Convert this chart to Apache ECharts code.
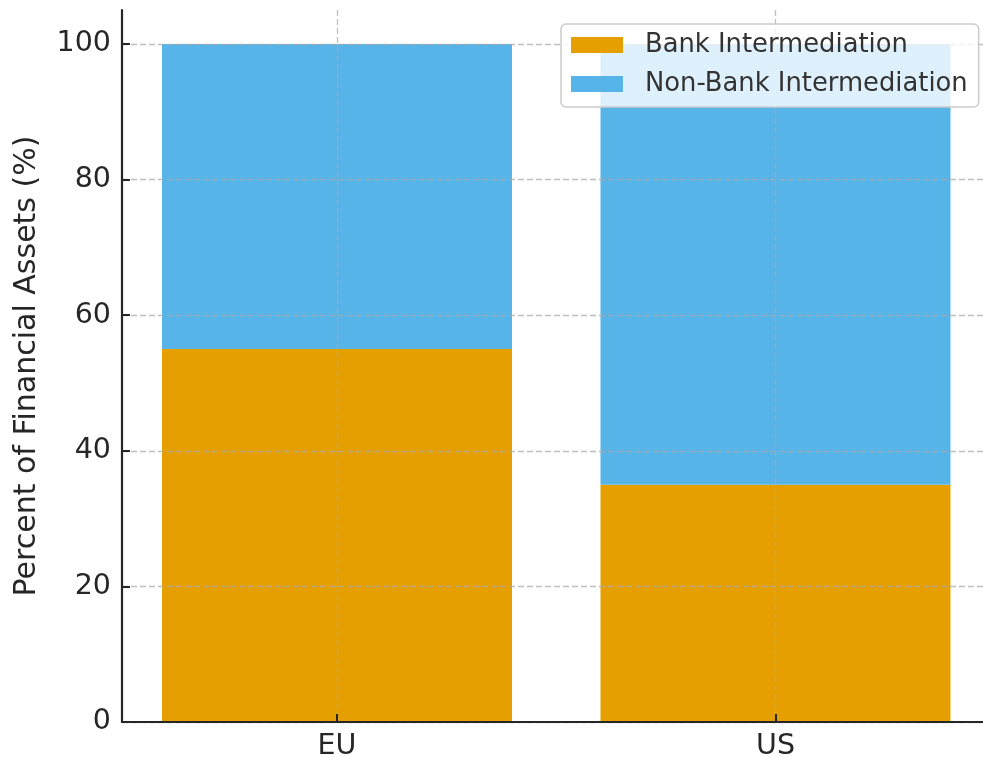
<!DOCTYPE html>
<html>
<head>
<meta charset="utf-8">
<script src="https://cdn.jsdelivr.net/npm/echarts@6/dist/echarts.min.js"></script>
<style>
  html, body { margin: 0; padding: 0; background: #ffffff; }
  #chart { width: 983px; height: 758px; }
</style>
</head>
<body>
<div id="chart"></div>
<script>
// Share of financial assets by intermediation channel
const regions = ['EU', 'US'];
const bankShare = [55, 35];
const nonBankShare = [45, 65];
const yTickValues = [0, 20, 40, 60, 80, 100];
const seriesNames = ['Bank Intermediation', 'Non-Bank Intermediation'];

const FONT = 'DejaVu Sans';
const INK = '#262626';
const GRID_LINE = { type: [6, 3], color: 'rgba(170,170,170,0.75)', width: 1.3 };
const Y_MAX = 105;
const PLOT_TOP = 10;
const PLOT_BOTTOM = 36;

// Category positions on the visible axis (index of each region)
const regionIndex = regions.map((_, i) => i);

const chart = echarts.init(document.getElementById('chart'), null, { renderer: 'canvas' });

chart.setOption({
  animation: false,
  backgroundColor: '#ffffff',
  textStyle: { fontFamily: FONT },
  // grid 0 carries the stacked bars, grid 1 carries the visible frame, ticks and grid lines
  grid: [
    { left: 117.75, right: -11.75, top: PLOT_TOP, bottom: PLOT_BOTTOM, containLabel: false, outerBoundsMode: 'none' },
    { left: 122, right: 0, top: PLOT_TOP, bottom: PLOT_BOTTOM, containLabel: false, outerBoundsMode: 'none' }
  ],
  legend: {
    orient: 'vertical',
    left: 561,
    top: 24,
    z: 10,
    padding: [8, 11, 10, 10],
    itemGap: 13,
    itemWidth: 52,
    itemHeight: 16,
    icon: 'rect',
    backgroundColor: 'rgba(255,255,255,0.8)',
    borderColor: '#cccccc',
    borderWidth: 1.5,
    borderRadius: 5,
    textStyle: {
      fontFamily: FONT,
      fontSize: 25.8,
      lineHeight: 26,
      color: '#333333',
      padding: [0, 0, 0, 17]
    },
    data: seriesNames
  },
  xAxis: [
    {
      gridIndex: 0,
      type: 'category',
      data: regions,
      boundaryGap: true,
      show: false
    },
    {
      gridIndex: 1,
      type: 'value',
      min: -0.49,
      max: 1.473,
      z: 3,
      axisLine: { show: true, onZero: false, lineStyle: { color: INK, width: 2.2 } },
      axisTick: { show: true, inside: true, length: 8, customValues: regionIndex, lineStyle: { color: INK, width: 2 } },
      axisLabel: {
        customValues: regionIndex,
        formatter: v => regions[Math.round(v)] || '',
        fontFamily: FONT,
        fontSize: 28.5,
        color: INK,
        margin: 10
      },
      splitLine: { show: true, lineStyle: GRID_LINE }
    }
  ],
  yAxis: [
    {
      gridIndex: 0,
      type: 'value',
      min: 0,
      max: Y_MAX,
      show: false,
      splitLine: { show: false }
    },
    {
      gridIndex: 1,
      type: 'value',
      min: 0,
      max: Y_MAX,
      z: 3,
      name: 'Percent of Financial Assets (%)',
      nameLocation: 'middle',
      nameGap: 80,
      nameRotate: 90,
      nameTextStyle: { fontFamily: FONT, fontSize: 30, color: INK },
      axisLine: { show: true, onZero: false, lineStyle: { color: INK, width: 2.2 } },
      axisTick: { show: true, inside: true, length: 8, customValues: yTickValues, lineStyle: { color: INK, width: 2 } },
      axisLabel: {
        customValues: yTickValues,
        fontFamily: FONT,
        fontSize: 28.5,
        color: INK,
        margin: 11
      },
      splitLine: { show: true, lineStyle: GRID_LINE }
    }
  ],
  series: [
    {
      name: seriesNames[0],
      type: 'bar',
      xAxisIndex: 0,
      yAxisIndex: 0,
      stack: 'share',
      barWidth: 350,
      itemStyle: { color: '#E69F00' },
      data: bankShare
    },
    {
      name: seriesNames[1],
      type: 'bar',
      xAxisIndex: 0,
      yAxisIndex: 0,
      stack: 'share',
      barWidth: 350,
      itemStyle: { color: '#56B4E9' },
      data: nonBankShare
    }
  ]
});
</script>
</body>
</html>
